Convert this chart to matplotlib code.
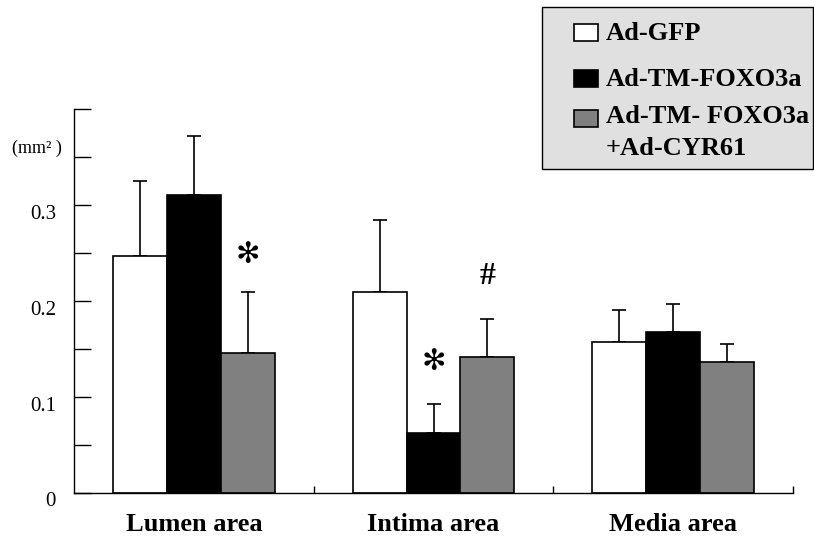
import numpy as np
import matplotlib
matplotlib.use("Agg")
import matplotlib.pyplot as plt
from matplotlib.patches import Rectangle
from matplotlib.transforms import ScaledTranslation

# data (mm2)
groups = ["Lumen area", "Intima area", "Media area"]
series = ["Ad-GFP", "Ad-TM-FOXO3a", "Ad-TM- FOXO3a\n+Ad-CYR61"]
colors = ["white", "black", "#808080"]
gfp = [0.247, 0.209, 0.157]
foxo = [0.310, 0.062, 0.167]
cyr = [0.146, 0.141, 0.136]
gfp_err = [0.078, 0.075, 0.033]
foxo_err = [0.062, 0.030, 0.030]
cyr_err = [0.063, 0.040, 0.019]
# significance marks: (group, series, text, gap above error bar)
marks = [(0, 2, "\u273b", 0.024), (1, 1, "\u273b", 0.030), (1, 2, "#", 0.029)]

plt.rcParams["font.family"] = ["Liberation Serif", "DejaVu Sans"]

fig = plt.figure(figsize=(8.14, 5.37), dpi=100)
ax = fig.add_axes([74/814, 1-492.5/537, (793-74)/814, (492.5-109)/537])

x = np.arange(len(groups))
w = 0.225
vals = [gfp, foxo, cyr]
errs = [gfp_err, foxo_err, cyr_err]
for k in range(3):
    xs = x + (k-1)*w
    ax.bar(xs, vals[k], w, color=colors[k], edgecolor="black", linewidth=1.2, zorder=2)
    ax.errorbar(xs, vals[k], yerr=[np.zeros(3), errs[k]], fmt="none",
                ecolor="black", elinewidth=1.2, capsize=5, capthick=1.2, zorder=1)

for g, s, t, gap in marks:
    top = vals[s][g] + errs[s][g]
    xs = g + (s-1)*w
    if t == "#":
        ax.text(xs, top + gap, t, ha="center", va="bottom", fontsize=23, fontweight="bold")
    else:
        ax.text(xs, top + gap, t, ha="center", va="bottom", fontsize=21,
                family="DejaVu Sans", fontweight="bold")

ax.set_xlim(-0.5, 2.5)
ax.set_ylim(0, 0.4)
ax.spines["top"].set_visible(False)
ax.spines["right"].set_visible(False)
for sp in ["left", "bottom"]:
    ax.spines[sp].set_linewidth(1.0)

ax.set_yticks(np.arange(0, 0.41, 0.05))
ax.set_yticklabels(["0", "", "0.1", "", "0.2", "", "0.3", "", ""], fontsize=15)
ax.tick_params(axis="y", direction="in", length=12, width=1, pad=13)
off = ScaledTranslation(0, -5/72, fig.dpi_scale_trans)
for lab in ax.get_yticklabels():
    lab.set_transform(lab.get_transform() + off)

ax.set_xticks(x)
ax.set_xticklabels(groups, fontsize=19, fontweight="bold")
ax.tick_params(axis="x", which="major", length=0, pad=15)
ax.set_xticks([0.5, 1.5, 2.5], minor=True)
ax.tick_params(axis="x", which="minor", direction="in", length=5, width=1)

ax.text(-0.086, 0.898, "(mm\u00b2 )", transform=ax.transAxes, ha="left", va="center", fontsize=13)

# legend box
def px(xp, yp):
    return xp/814, 1-yp/537

lx, ly = px(542, 169)
fig.add_artist(Rectangle((lx, ly), (813-542)/814, (169-7)/537, transform=fig.transFigure,
                         facecolor="#e0e0e0", edgecolor="black", linewidth=1.0))
rows = [33, 79, 119]
for k in range(3):
    sx, sy = px(574, rows[k]+8)
    fig.add_artist(Rectangle((sx, sy), 24/814, 17/537, transform=fig.transFigure,
                             facecolor=colors[k], edgecolor="black", linewidth=1.2))
    tx, ty = px(606, rows[k])
    fig.text(tx, ty, series[k], ha="left", va="top" if "\n" in series[k] else "center",
             fontsize=19, fontweight="bold", linespacing=1.5)
# the two-line label needs its top near the first row
fig.texts[-1].set_position(px(606, rows[2]-14))

fig.savefig("out.png", dpi=100)
